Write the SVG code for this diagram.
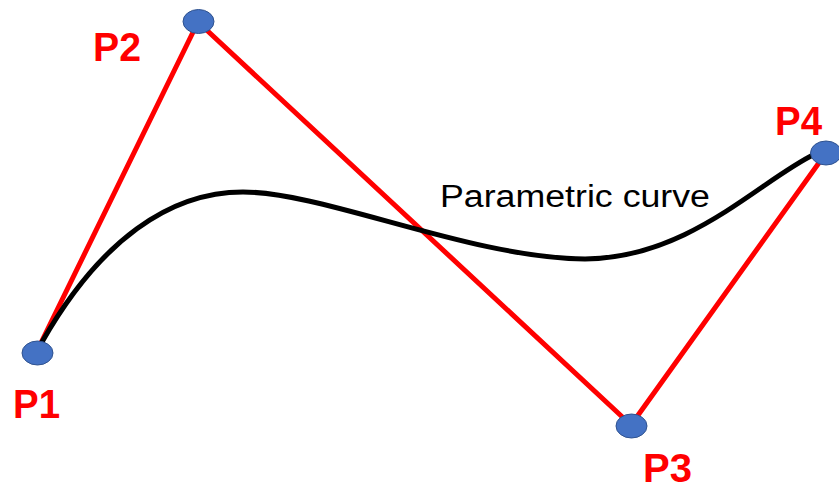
<svg xmlns="http://www.w3.org/2000/svg" width="839" height="488" viewBox="0 0 839 488">
<style>
.ctl{fill:none;stroke:#FF0000;stroke-width:5;stroke-linejoin:round}
.crv{fill:none;stroke:#000;stroke-width:5;stroke-linecap:round}
.pt{fill:#4472C4;stroke:#2F528F;stroke-width:1}
.lbl{font-family:"Liberation Sans",Arial,sans-serif;font-weight:bold;font-size:41px;fill:#FF0000}
.cap{font-family:"Liberation Sans",Arial,sans-serif;font-size:31px;fill:#000}
</style>
<rect width="839" height="488" fill="#fff"/>
<g id="connectors">
<polyline class="ctl" points="37,351 198,22 631,425 826,153"/>
<path class="crv" d="M42,342 C100,240 170,192 243,192 C325,192 470,258 585,259 C690,258 760,180 815,154"/>
</g>
<g id="P1"><ellipse class="pt" cx="37.5" cy="353" rx="15.5" ry="12"/><text class="lbl" x="13" y="418" textLength="47" lengthAdjust="spacingAndGlyphs">P1</text></g>
<g id="P2"><ellipse class="pt" cx="198.5" cy="21.5" rx="15.5" ry="12"/><text class="lbl" x="93" y="61" textLength="48" lengthAdjust="spacingAndGlyphs">P2</text></g>
<g id="P3"><ellipse class="pt" cx="631.5" cy="426" rx="15.5" ry="12"/><text class="lbl" x="643" y="482" textLength="49" lengthAdjust="spacingAndGlyphs">P3</text></g>
<g id="P4"><ellipse class="pt" cx="826" cy="153" rx="15.5" ry="12"/><text class="lbl" x="775" y="135" textLength="47" lengthAdjust="spacingAndGlyphs">P4</text></g>
<g id="caption"><text class="cap" x="440" y="207" textLength="270" lengthAdjust="spacingAndGlyphs">Parametric curve</text></g>
</svg>
